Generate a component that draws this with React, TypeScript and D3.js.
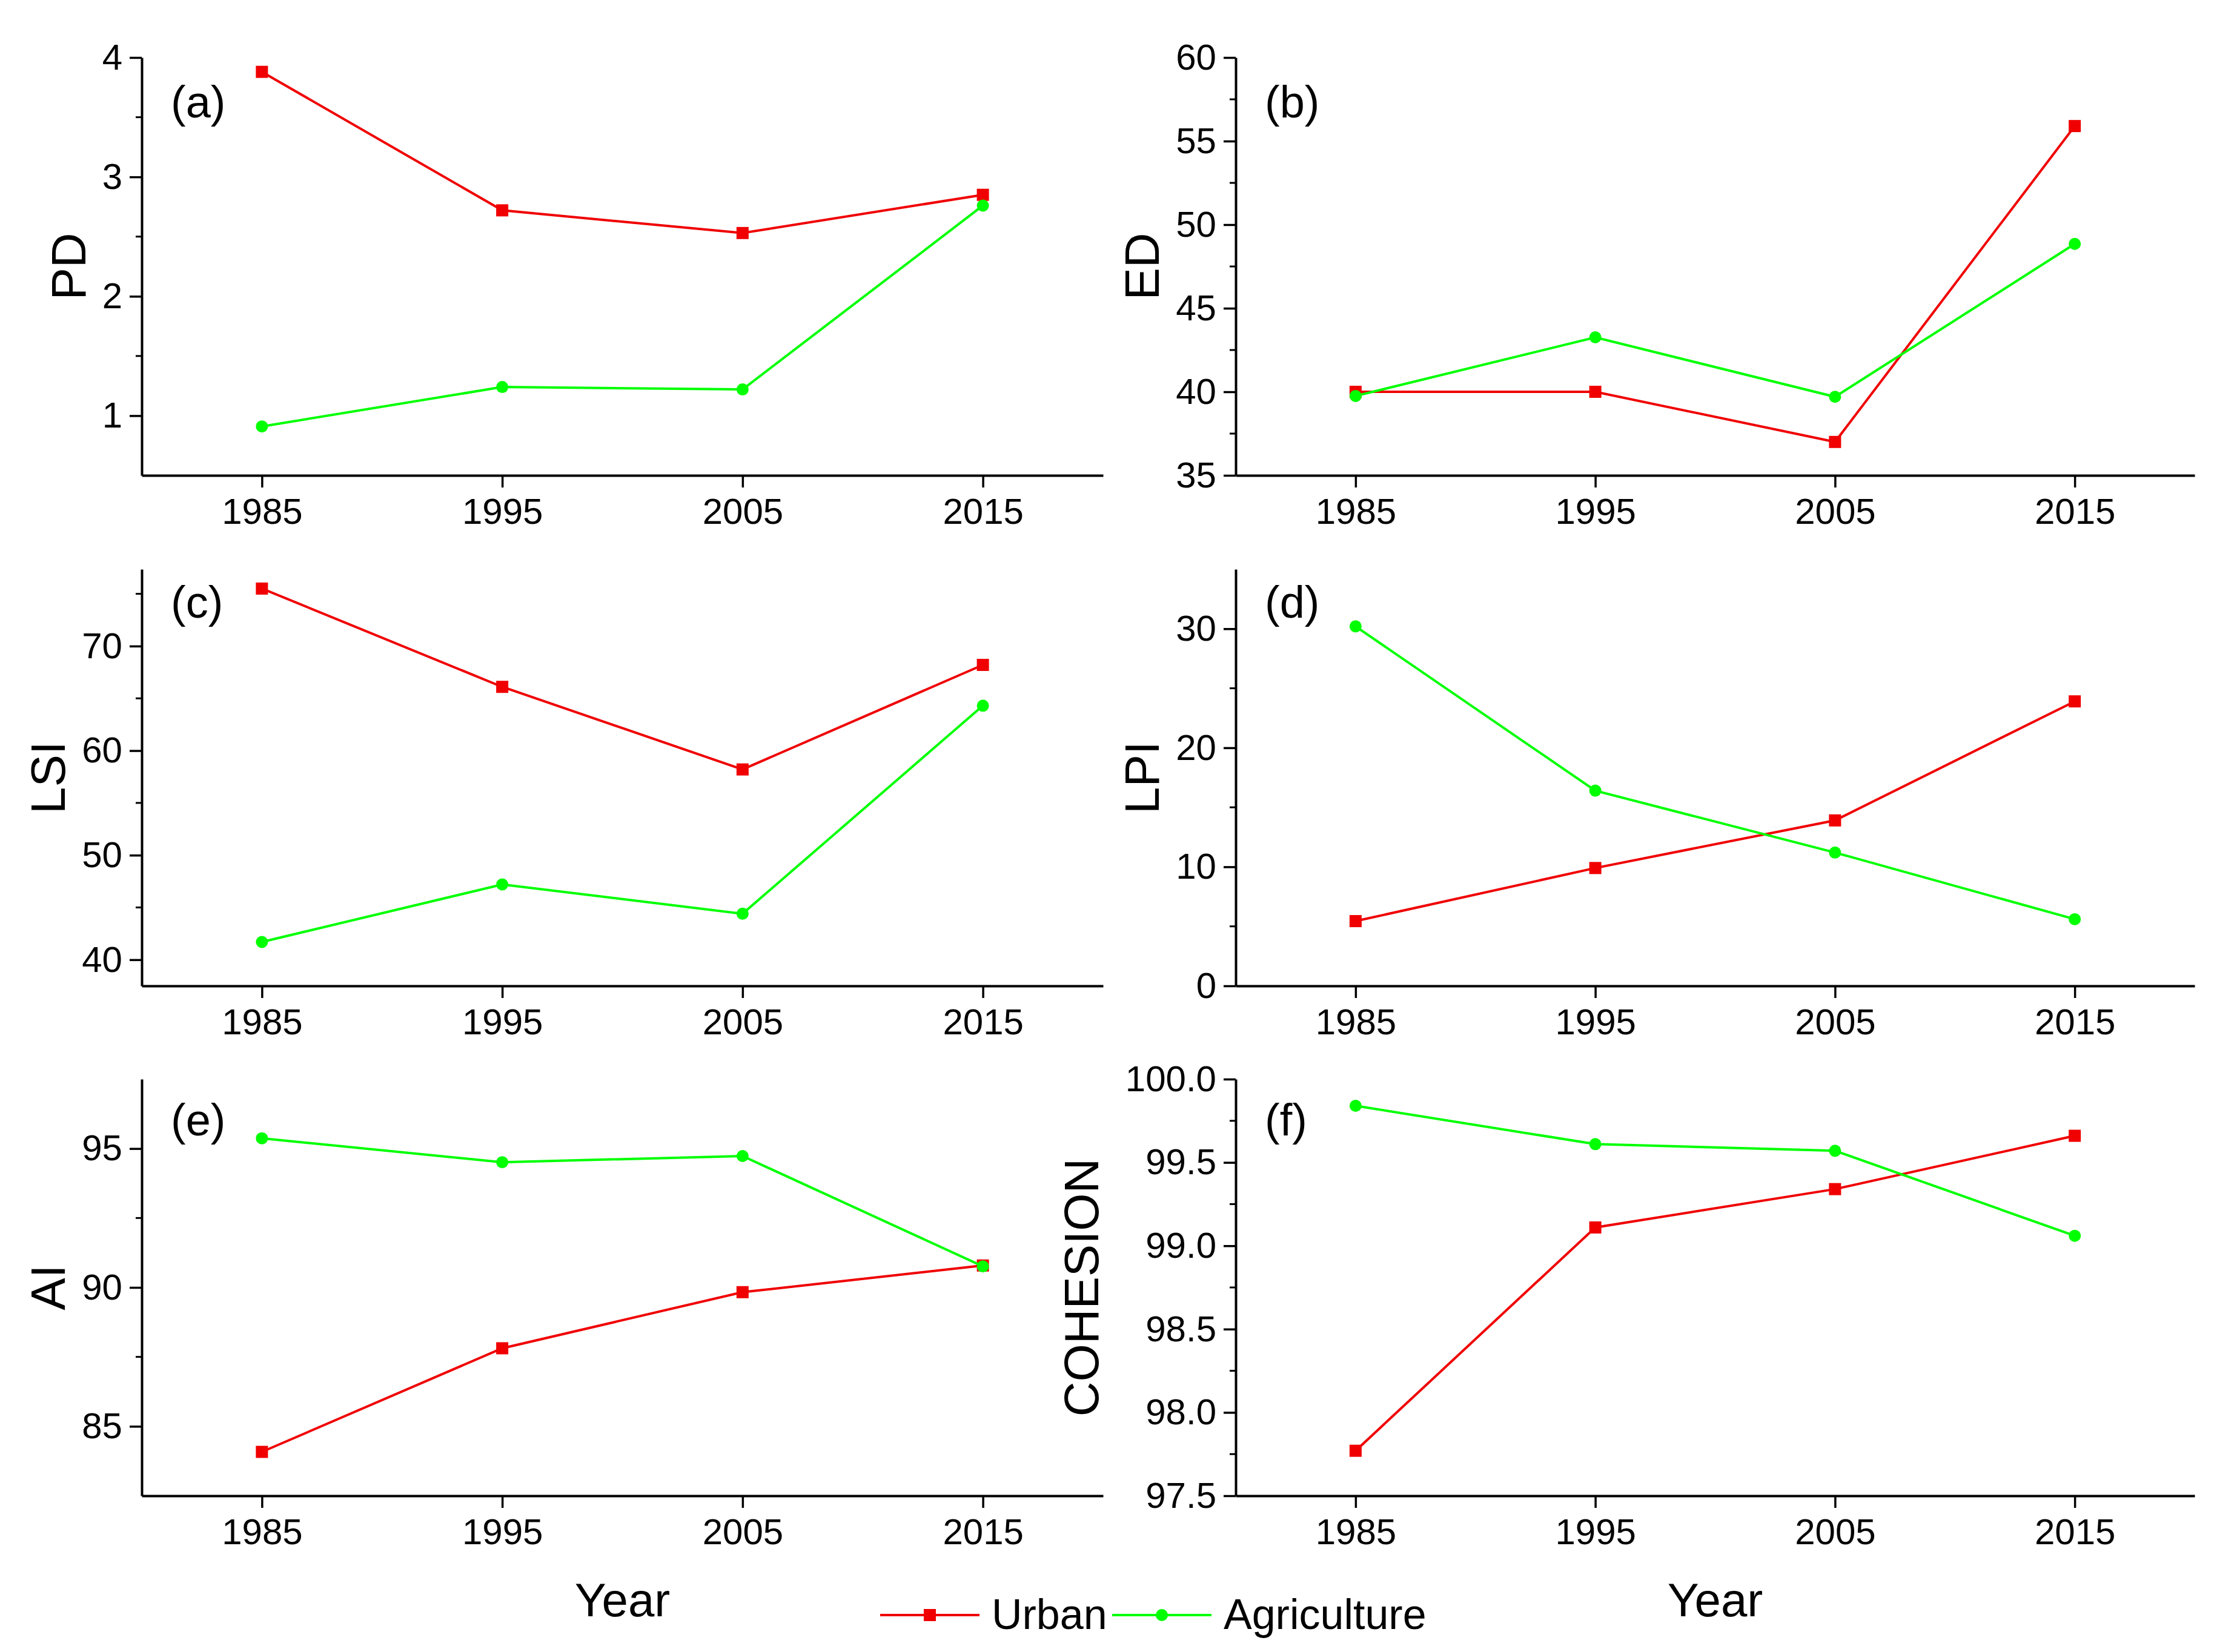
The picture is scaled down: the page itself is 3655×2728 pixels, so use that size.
import { useEffect, useRef } from "react";
import * as d3 from "d3";

const W = 3655;
const H = 2728;

// data
const years = [1985, 1995, 2005, 2015];
const seriesNames = ["Urban", "Agriculture"];

const pdUrban = [3.88, 2.72, 2.53, 2.85];
const pdAgri = [0.91, 1.24, 1.22, 2.76];
const edUrban = [40.0, 40.0, 37.0, 55.9];
const edAgri = [39.75, 43.26, 39.7, 48.85];
const lsiUrban = [75.5, 66.1, 58.2, 68.2];
const lsiAgri = [41.7, 47.2, 44.4, 64.3];
const lpiUrban = [5.44, 9.9, 13.9, 23.9];
const lpiAgri = [30.2, 16.4, 11.2, 5.6];
const aiUrban = [84.08, 87.81, 89.83, 90.79];
const aiAgri = [95.37, 94.51, 94.73, 90.76];
const cohUrban = [97.77, 99.11, 99.34, 99.66];
const cohAgri = [99.84, 99.61, 99.57, 99.06];

const pdTicks = [1, 2, 3, 4];
const edTicks = [35, 40, 45, 50, 55, 60];
const lsiTicks = [40, 50, 60, 70];
const lpiTicks = [0, 10, 20, 30];
const aiTicks = [85, 90, 95];
const cohTicks = [97.5, 98.0, 98.5, 99.0, 99.5, 100.0];

const panels = [
  { tag: "(a)", title: "PD", urban: pdUrban, agri: pdAgri, ticks: pdTicks, domain: [0.5, 4], fmt: "d", col: 0, row: 0 },
  { tag: "(b)", title: "ED", urban: edUrban, agri: edAgri, ticks: edTicks, domain: [35, 60], fmt: "d", col: 1, row: 0 },
  { tag: "(c)", title: "LSI", urban: lsiUrban, agri: lsiAgri, ticks: lsiTicks, domain: [37.5, 77.35], fmt: "d", col: 0, row: 1 },
  { tag: "(d)", title: "LPI", urban: lpiUrban, agri: lpiAgri, ticks: lpiTicks, domain: [0, 35], fmt: "d", col: 1, row: 1 },
  { tag: "(e)", title: "AI", urban: aiUrban, agri: aiAgri, ticks: aiTicks, domain: [82.5, 97.5], fmt: "d", col: 0, row: 2 },
  { tag: "(f)", title: "COHESION", urban: cohUrban, agri: cohAgri, ticks: cohTicks, domain: [97.5, 100], fmt: ".1f", col: 1, row: 2 },
];

// layout
const cols = [
  { x0: 234, x1: 1821 },
  { x0: 2040, x1: 3623 },
];
const rows = [
  { y0: 95, y1: 785, tagDy: 99 },
  { y0: 940, y1: 1628, tagDy: 80 },
  { y0: 1782, y1: 2470, tagDy: 93 },
];

const RED = "#f00000";
const GREEN = "#00ff00";
const FONT = "'Liberation Sans', Arial, Helvetica, sans-serif";

export default function App() {
  const svgRef = useRef<SVGSVGElement>(null);

  useEffect(() => {
    document.body.style.margin = "0";
    if (!svgRef.current) return;
    const svg = d3.select(svgRef.current);
    svg.selectAll("*").remove();

    svg.append("rect").attr("width", W).attr("height", H).attr("fill", "white");

    panels.forEach((p) => {
      const c = cols[p.col];
      const r = rows[p.row];
      const x = d3.scaleLinear().domain([1980, 2020]).range([c.x0, c.x1]);
      const y = d3.scaleLinear().domain(p.domain).range([r.y1, r.y0]);
      const g = svg.append("g");

      // minor ticks: halfway between majors
      const step = p.ticks[1] - p.ticks[0];
      const minors = d3
        .range(p.ticks[0] - step / 2, p.ticks[p.ticks.length - 1] + step, step)
        .filter((v) => v > p.domain[0] + 1e-6 && v < p.domain[1] - 1e-6);

      g.append("g")
        .selectAll("line")
        .data(minors)
        .join("line")
        .attr("x1", c.x0 - 10)
        .attr("x2", c.x0)
        .attr("y1", (d) => y(d))
        .attr("y2", (d) => y(d))
        .attr("stroke", "#000")
        .attr("stroke-width", 3);

      const yAxis = g
        .append("g")
        .attr("transform", `translate(${c.x0},0)`)
        .call(
          d3
            .axisLeft(y)
            .tickValues(p.ticks)
            .tickFormat(d3.format(p.fmt) as any)
            .tickSize(20)
            .tickSizeOuter(0)
            .tickPadding(12)
        );
      yAxis.select(".domain").attr("stroke-width", 4);
      yAxis.selectAll(".tick line").attr("stroke-width", 3.5);
      yAxis
        .selectAll(".tick text")
        .style("font-family", FONT)
        .style("font-size", "60px")
        .attr("fill", "#000");

      const xAxis = g
        .append("g")
        .attr("transform", `translate(0,${r.y1})`)
        .call(
          d3
            .axisBottom(x)
            .tickValues(years)
            .tickFormat(d3.format("d") as any)
            .tickSize(20)
            .tickSizeOuter(0)
            .tickPadding(17)
        );
      xAxis.select(".domain").attr("stroke-width", 4);
      xAxis.selectAll(".tick line").attr("stroke-width", 3.5);
      xAxis
        .selectAll(".tick text")
        .style("font-family", FONT)
        .style("font-size", "60px")
        .attr("fill", "#000");

      // y title, placed left of the tick labels
      const bb = (yAxis.node() as SVGGElement).getBBox();
      const tx = c.x0 + bb.x - (p.title.length > 4 ? 45 : 28);
      g.append("text")
        .attr("transform", `translate(${tx},${(r.y0 + r.y1) / 2}) rotate(-90)`)
        .attr("text-anchor", "middle")
        .style("font-family", FONT)
        .style("font-size", "80px")
        .text(p.title);

      g.append("text")
        .attr("x", c.x0 + 48)
        .attr("y", r.y0 + r.tagDy)
        .style("font-family", FONT)
        .style("font-size", "74px")
        .text(p.tag);

      const line = d3
        .line<number>()
        .x((_, i) => x(years[i]))
        .y((d) => y(d));

      // Urban
      g.append("path")
        .attr("d", line(p.urban))
        .attr("fill", "none")
        .attr("stroke", RED)
        .attr("stroke-width", 4);
      g.append("g")
        .selectAll("rect")
        .data(p.urban)
        .join("rect")
        .attr("x", (_, i) => x(years[i]) - 10)
        .attr("y", (d) => y(d) - 10)
        .attr("width", 20)
        .attr("height", 20)
        .attr("fill", RED);

      // Agriculture
      g.append("path")
        .attr("d", line(p.agri))
        .attr("fill", "none")
        .attr("stroke", GREEN)
        .attr("stroke-width", 4);
      g.append("g")
        .selectAll("circle")
        .data(p.agri)
        .join("circle")
        .attr("cx", (_, i) => x(years[i]))
        .attr("cy", (d) => y(d))
        .attr("r", 10)
        .attr("fill", GREEN);
    });

    // x titles
    cols.forEach((c) => {
      svg
        .append("text")
        .attr("x", (c.x0 + c.x1) / 2)
        .attr("y", 2669)
        .attr("text-anchor", "middle")
        .style("font-family", FONT)
        .style("font-size", "78px")
        .text("Year");
    });

    // legend
    const legend = [
      { x: 1453, color: RED, shape: "square" },
      { x: 1836, color: GREEN, shape: "circle" },
    ];
    legend.forEach((l, i) => {
      const lg = svg.append("g");
      const ly = 2667;
      lg.append("line")
        .attr("x1", l.x)
        .attr("x2", l.x + 164)
        .attr("y1", ly)
        .attr("y2", ly)
        .attr("stroke", l.color)
        .attr("stroke-width", 4);
      if (l.shape === "square") {
        lg.append("rect")
          .attr("x", l.x + 82 - 10)
          .attr("y", ly - 10)
          .attr("width", 20)
          .attr("height", 20)
          .attr("fill", l.color);
      } else {
        lg.append("circle")
          .attr("cx", l.x + 82)
          .attr("cy", ly)
          .attr("r", 10)
          .attr("fill", l.color);
      }
      lg.append("text")
        .attr("x", l.x + 184)
        .attr("y", ly + 23)
        .style("font-family", FONT)
        .style("font-size", "70px")
        .text(seriesNames[i]);
    });
  }, []);

  return (
    <svg
      ref={svgRef}
      width={W}
      height={H}
      viewBox={`0 0 ${W} ${H}`}
      style={{ display: "block", position: "absolute", left: 0, top: 0 }}
    />
  );
}
